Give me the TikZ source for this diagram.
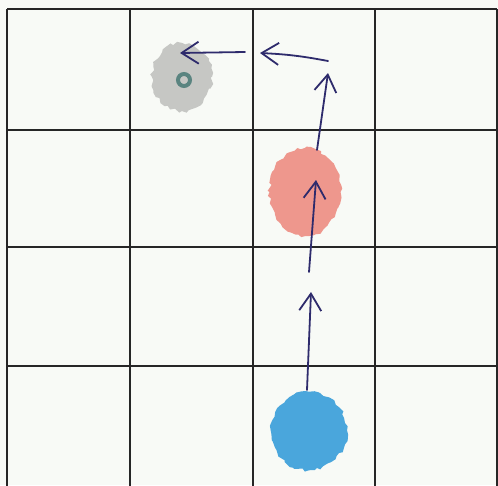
\documentclass[tikz,border=0pt]{standalone}
\usetikzlibrary{arrows.meta, shapes.geometric, decorations.pathmorphing}

\definecolor{paper}{HTML}{F8FAF6}
\definecolor{ink}{HTML}{2E2B6C}
\definecolor{pencilgrey}{HTML}{C6C7C4}
\definecolor{pencilteal}{HTML}{5A8480}
\definecolor{pencilred}{HTML}{EE978D}
\definecolor{pencilblue}{HTML}{4AA6DC}

\tikzset{
  gridline/.style={black!85, line width=1.3pt},
  blob/.style={ellipse, inner sep=0pt, decorate,
    decoration={random steps, segment length=4pt, amplitude=1.8pt}},
  move/.style={ink, line width=1.8pt, line cap=round,
    -{Straight Barb[length=17pt, width=22pt, line width=1.8pt]}},
}

\begin{document}
\begin{tikzpicture}[x=1pt, y=-1pt]
  \fill[paper] (0,0) rectangle (498,485);
  \useasboundingbox (0,0) rectangle (498,485);
  % grid
  \foreach \gx in {7,130,253,375,497}
    \draw[gridline] (\gx,9) -- (\gx,490);
  \foreach \gy in {9,130,247,366}
    \draw[gridline] (7,\gy) -- (497,\gy);
  % blobs
  \node[blob, fill=pencilgrey, minimum width=60pt, minimum height=68pt] (goal) at (182,77) {};
  \node[circle, draw=pencilteal, line width=4pt, minimum size=12pt, inner sep=0pt] (core) at (184,80) {};
  \node[blob, fill=pencilred, minimum width=71pt, minimum height=88pt] (mid) at (305,192) {};
  \node[blob, fill=pencilblue, minimum width=76pt, minimum height=78pt] (start) at (309,431) {};
  % arrow ends
  \coordinate (s1) at (307,390); \coordinate (t1) at (311,292);
  \coordinate (s2) at (309,272); \coordinate (t2) at (316,180);
  \coordinate (s3) at (317,150); \coordinate (t3) at (328,73);
  \coordinate (s4) at (328,61);  \coordinate (t4) at (260,53);
  \coordinate (s5) at (245,52);  \coordinate (t5) at (180,53);
  \draw[move] (s1) -- (t1);
  \draw[move] (s2) -- (t2);
  \draw[move] (s3) -- (t3);
  \draw[move] (s4) to[bend right=4] (t4);
  \draw[move] (s5) -- (t5);
\end{tikzpicture}
\end{document}
